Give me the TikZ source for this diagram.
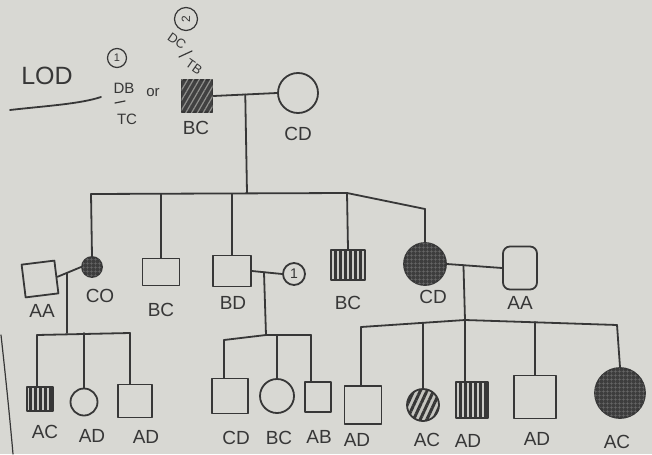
\documentclass[tikz,border=0pt]{standalone}
\usepackage{fontspec}
\setmainfont{Liberation Sans}
\usetikzlibrary{patterns.meta,calc}
\definecolor{ink}{RGB}{55,55,55}
\definecolor{paper}{RGB}{216,216,211}
\begin{document}
\begin{tikzpicture}[x=1pt,y=-1pt,
  pen/.style={draw=ink, line width=1.8pt, line join=round, line cap=round},
  sq/.style={pen, rectangle, inner sep=0pt},
  ci/.style={pen, circle, inner sep=0pt},
  lbl/.style={text=ink, inner sep=0pt, font=\fontsize{19}{19}\selectfont},
  note/.style={text=ink, inner sep=0pt, font=\fontsize{15}{15}\selectfont},
  link/.style={pen},
  diaghatch/.style={fill=ink!95, postaction={pattern={Lines[angle=60,distance=5pt,line width=1.2pt]}, pattern color=paper!55!ink}},
  vstripe/.style={fill=paper!92!ink, postaction={pattern={Lines[angle=90,distance=5pt,line width=3pt]}, pattern color=ink}},
  slanthatch/.style={fill=paper!88!ink, postaction={pattern={Lines[angle=65,distance=6pt,line width=3pt]}, pattern color=ink}},
  solidfill/.style={fill=ink!110!black, postaction={pattern={Hatch[distance=4pt,line width=0.6pt]}, pattern color=ink!75}}]

% paper
\fill[paper] (0,0) rectangle (652,454);
% ruled margin of the sheet
\coordinate (mtop) at (1,335);
\coordinate (mbot) at (13,454);
\draw[pen, line width=1.2pt] (mtop) .. controls (6,380) and (10,420) .. (mbot);

% heading and allele notes
\node[text=ink, inner sep=0pt, font=\fontsize{25}{25}\selectfont] (lod) at (47,76) {LOD};
\coordinate (ulA) at (10,110);
\coordinate (ulB) at (101,97);
\draw[pen] (ulA) .. controls (45,106) and (80,104) .. (ulB);
\node[ci, line width=1.2pt, minimum size=19pt, note, font=\fontsize{11}{11}\selectfont] (n1) at (117,58) {1};
\node[note] (db) at (124,88) {DB};
\coordinate (bar1a) at (115,103);
\coordinate (bar1b) at (125,101);
\draw[pen, line width=1.2pt] (bar1a) -- (bar1b);
\node[note] (tc) at (127,119) {TC};
\node[note] (or) at (153,93) {or};
\node[ci, line width=1.2pt, minimum size=23pt, font=\fontsize{12}{12}\selectfont, text=ink] (n2) at (186,19) {\rotatebox{90}{2}};
\node[note, font=\fontsize{13}{13}\selectfont, rotate=-35] (dc) at (177,41) {DC};
\coordinate (bar2a) at (179,57);
\coordinate (bar2b) at (192,51);
\draw[pen, line width=1.2pt] (bar2a) -- (bar2b);
\node[note, font=\fontsize{13}{13}\selectfont, rotate=-35] (tb) at (194,67) {TB};

% generation I
\node[sq, minimum width=31pt, minimum height=32pt, diaghatch] (f1) at (197,96) {};
\node[ci, minimum size=40pt] (m1) at (298,93) {};
\node[lbl] (f1l) at (196,128) {BC};
\node[lbl] (m1l) at (298,134) {CD};
\draw[link] (f1.east) -- (m1.west);
\coordinate (c1) at ($(f1.east)!0.5!(m1.west)$);
\coordinate (sL) at (91,194);
\coordinate (sM) at (347,193);
\coordinate (sR) at (425,209);
\draw[link] (c1) -- (247,193);
\draw[link] (sL) -- (sM) -- (sR);

% generation II
\node[ci, minimum size=20pt, solidfill] (g2a) at (92,267) {};
\node[sq, minimum width=37pt, minimum height=27pt] (g2b) at (161,272) {};
\node[sq, minimum width=38pt, minimum height=31pt] (g2c) at (232,271) {};
\node[sq, minimum width=34pt, minimum height=30pt, vstripe] (g2d) at (348,265) {};
\node[ci, minimum size=42pt, solidfill] (g2e) at (425,264) {};
\draw[link] (sL) -- (g2a.north);
\draw[link] (g2b.north |- sL) -- (g2b.north);
\draw[link] (g2c.north |- sL) -- (g2c.north);
\draw[link] (sM) -- (g2d.north);
\draw[link] (sR) -- (g2e.north);
\node[lbl] (g2al) at (100,296) {CO};
\node[lbl] (g2bl) at (161,310) {BC};
\node[lbl] (g2cl) at (233,303) {BD};
\node[lbl] (g2dl) at (348,303) {BC};
\node[lbl] (g2el) at (433,297) {CD};

% spouses of generation II
\node[sq, minimum width=33pt, minimum height=33pt, rotate=7] (sp1) at (40,279) {};
\node[lbl] (sp1l) at (42,311) {AA};
\node[ci, minimum size=22pt, text=ink, font=\fontsize{14}{14}\selectfont] (sp2) at (294,274) {1};
\node[sq, rounded corners=7pt, minimum width=34pt, minimum height=43pt] (sp3) at (520,268) {};
\node[lbl] (sp3l) at (520,303) {AA};
\draw[link] (sp1.east) -- (g2a.west);
\draw[link] (g2c.east) -- (sp2.west);
\draw[link] (g2e.east) -- (sp3.west);
\coordinate (c2) at ($(sp1.east)!0.4!(g2a.west)$);
\coordinate (c3) at ($(g2c.east)!0.4!(sp2.west)$);
\coordinate (c4) at ($(g2e.east)!0.3!(sp3.west)$);

% generation III, left family
\coordinate (hL) at (37,335);
\coordinate (hR) at (130,333);
\draw[link] (c2) -- (c2 |- hR);
\draw[link] (hL) -- (hR);
\node[sq, minimum width=26pt, minimum height=24pt, vstripe] (h1) at (40,399) {};
\node[ci, minimum size=27pt] (h2) at (84,402) {};
\node[sq, minimum width=34pt, minimum height=33pt] (h3) at (135,401) {};
\draw[link] (hL) -- (hL |- h1.north);
\draw[link] (h2.north |- hR) -- (h2.north);
\draw[link] (hR) -- (hR |- h3.north);
\node[lbl] (h1l) at (45,432) {AC};
\node[lbl] (h2l) at (92,436) {AD};
\node[lbl] (h3l) at (146,437) {AD};

% generation III, middle family
\coordinate (iL) at (224,340);
\coordinate (iM) at (266,335);
\coordinate (iR) at (311,335);
\draw[link] (c3) -- (iM);
\draw[link] (iL) -- (iM) -- (iR);
\node[sq, minimum width=36pt, minimum height=35pt] (i1) at (230,396) {};
\node[ci, minimum size=34pt] (i2) at (277,396) {};
\node[sq, minimum width=26pt, minimum height=30pt] (i3) at (318,397) {};
\draw[link] (iL) -- (iL |- i1.north);
\draw[link] (i2.north |- iR) -- (i2.north);
\draw[link] (iR) -- (iR |- i3.north);
\node[lbl] (i1l) at (236,438) {CD};
\node[lbl] (i2l) at (279,438) {BC};
\node[lbl] (i3l) at (319,437) {AB};

% generation III, right family
\coordinate (jL) at (361,327);
\coordinate (jM) at (465,320);
\coordinate (jR) at (617,325);
\draw[link] (c4) -- (jM);
\draw[link] (jL) -- (jM) -- (jR);
\node[sq, minimum width=37pt, minimum height=38pt] (j1) at (363,405) {};
\node[ci, minimum size=32pt, slanthatch] (j2) at (423,405) {};
\node[sq, minimum width=32pt, minimum height=36pt, vstripe] (j3) at (472,400) {};
\node[sq, minimum width=42pt, minimum height=43pt] (j4) at (535,397) {};
\node[ci, minimum size=50pt, solidfill] (j5) at (620,393) {};
\draw[link] (jL) -- (jL |- j1.north);
\draw[link] (j2.north |- 0,323) -- (j2.north);
\draw[link] (jM) -- (jM |- j3.north);
\draw[link] (j4.north |- 0,322) -- (j4.north);
\draw[link] (jR) -- (j5.north);
\node[lbl] (j1l) at (357,440) {AD};
\node[lbl] (j2l) at (427,440) {AC};
\node[lbl] (j3l) at (468,441) {AD};
\node[lbl] (j4l) at (537,439) {AD};
\node[lbl] (j5l) at (617,442) {AC};
\end{tikzpicture}
\end{document}
